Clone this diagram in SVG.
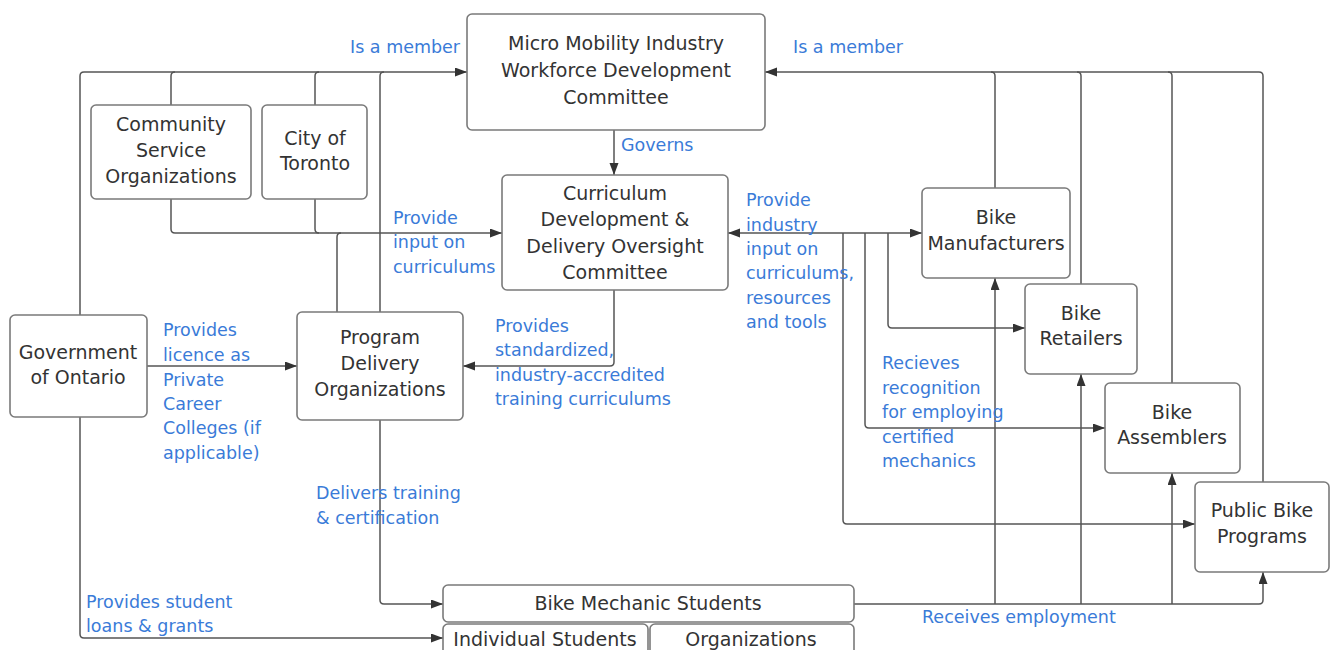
<svg xmlns="http://www.w3.org/2000/svg" width="1330" height="650" viewBox="0 0 1330 650">
<defs>
<marker id="ah" markerUnits="userSpaceOnUse" markerWidth="13" markerHeight="10" refX="12" refY="4.5" orient="auto-start-reverse">
<path d="M0,0 L12,4.5 L0,9 z" fill="#333"/>
</marker>
<style>
.box{fill:#fff;stroke:#7a7a7a;stroke-width:1.6}
.t{font-family:"DejaVu Sans",Verdana,sans-serif;font-size:19px;fill:#333;text-anchor:middle}
.l{font-family:"DejaVu Sans",Verdana,sans-serif;font-size:17.5px;fill:#3a7bd8}
.c{fill:none;stroke:#555;stroke-width:1.5;stroke-linejoin:round}
.a{marker-end:url(#ah)}
</style>
</defs>
<rect width="1330" height="650" fill="#fff"/>

<g id="connectors">
<path class="c a" d="M80,315 V76 Q80,72 84,72 H467"/>
<path class="c" d="M171,105 V76 Q171,72 175,72"/>
<path class="c" d="M315,105 V76 Q315,72 319,72"/>
<path class="c" d="M380,312 V76 Q380,72 384,72"/>
<path class="c a" d="M171,199 V229 Q171,233 175,233 H502"/>
<path class="c" d="M315,199 V229 Q315,233 319,233"/>
<path class="c" d="M337,312 V237 Q337,233 341,233"/>
<path class="c a" d="M80,417 V634 Q80,638 84,638 H443"/>
<path class="c a" d="M147,366 H297"/>
<path class="c a" d="M614,290 V362 Q614,366 610,366 H463"/>
<path class="c a" d="M380,420 V600 Q380,604 384,604 H443"/>
<path class="c a" d="M614,130 V175"/>
<path class="c a" d="M1263,482 V76 Q1263,72 1259,72 H765"/>
<path class="c" d="M995,188 V76 Q995,72 991,72"/>
<path class="c" d="M1081,284 V76 Q1081,72 1077,72"/>
<path class="c" d="M1172,383 V76 Q1172,72 1168,72"/>
<path class="c a" d="M728,233 H922" marker-start="url(#ah)"/>
<path class="c a" d="M843,233 V520 Q843,524 847,524 H1195"/>
<path class="c a" d="M865,233 V424 Q865,428 869,428 H1105"/>
<path class="c a" d="M888,233 V324 Q888,328 892,328 H1025"/>
<path class="c a" d="M854,604 H1259 Q1263,604 1263,600 V572"/>
<path class="c a" d="M995,604 V278"/>
<path class="c a" d="M1081,604 V374"/>
<path class="c a" d="M1172,604 V473"/>
</g>

<g id="labels">
<text class="l" x="350" y="53">Is a member</text>
<text class="l" x="793" y="53">Is a member</text>
<text class="l" x="621" y="151">Governs</text>
<text class="l" x="393" y="224">Provide</text>
<text class="l" x="393" y="248">input on</text>
<text class="l" x="393" y="273">curriculums</text>
<text class="l" x="746" y="206">Provide</text>
<text class="l" x="746" y="231">industry</text>
<text class="l" x="746" y="255">input on</text>
<text class="l" x="746" y="279">curriculums,</text>
<text class="l" x="746" y="304">resources</text>
<text class="l" x="746" y="328">and tools</text>
<text class="l" x="163" y="336">Provides</text>
<text class="l" x="163" y="361">licence as</text>
<text class="l" x="163" y="386">Private</text>
<text class="l" x="163" y="410">Career</text>
<text class="l" x="163" y="434">Colleges (if</text>
<text class="l" x="163" y="459">applicable)</text>
<text class="l" x="495" y="332">Provides</text>
<text class="l" x="495" y="356">standardized,</text>
<text class="l" x="495" y="381">industry-accredited</text>
<text class="l" x="495" y="405">training curriculums</text>
<text class="l" x="316" y="499">Delivers training</text>
<text class="l" x="316" y="524">&amp; certification</text>
<text class="l" x="86" y="608">Provides student</text>
<text class="l" x="86" y="632">loans &amp; grants</text>
<text class="l" x="882" y="369">Recieves</text>
<text class="l" x="882" y="394">recognition</text>
<text class="l" x="882" y="418">for employing</text>
<text class="l" x="882" y="443">certified</text>
<text class="l" x="882" y="467">mechanics</text>
<text class="l" x="922" y="623">Receives employment</text>
</g>

<g id="micro">
<rect class="box" x="467" y="14" width="298" height="116" rx="5"/>
<text class="t" x="616" y="50">Micro Mobility Industry</text>
<text class="t" x="616" y="77">Workforce Development</text>
<text class="t" x="616" y="104">Committee</text>
</g>
<g id="curriculum">
<rect class="box" x="502" y="175" width="226" height="115" rx="5"/>
<text class="t" x="615" y="200">Curriculum</text>
<text class="t" x="615" y="226">Development &amp;</text>
<text class="t" x="615" y="253">Delivery Oversight</text>
<text class="t" x="615" y="279">Committee</text>
</g>
<g id="cso">
<rect class="box" x="91" y="105" width="160" height="94" rx="5"/>
<text class="t" x="171" y="131">Community</text>
<text class="t" x="171" y="157">Service</text>
<text class="t" x="171" y="183">Organizations</text>
</g>
<g id="toronto">
<rect class="box" x="262" y="105" width="105" height="94" rx="5"/>
<text class="t" x="315" y="145">City of</text>
<text class="t" x="315" y="170">Toronto</text>
</g>
<g id="ontario">
<rect class="box" x="10" y="315" width="137" height="102" rx="5"/>
<text class="t" x="78" y="359">Government</text>
<text class="t" x="78" y="384">of Ontario</text>
</g>
<g id="program">
<rect class="box" x="297" y="312" width="166" height="108" rx="5"/>
<text class="t" x="380" y="344">Program</text>
<text class="t" x="380" y="370">Delivery</text>
<text class="t" x="380" y="396">Organizations</text>
</g>
<g id="manufacturers">
<rect class="box" x="922" y="188" width="148" height="90" rx="5"/>
<text class="t" x="996" y="224">Bike</text>
<text class="t" x="996" y="250">Manufacturers</text>
</g>
<g id="retailers">
<rect class="box" x="1025" y="284" width="112" height="90" rx="5"/>
<text class="t" x="1081" y="320">Bike</text>
<text class="t" x="1081" y="345">Retailers</text>
</g>
<g id="assemblers">
<rect class="box" x="1105" y="383" width="135" height="90" rx="5"/>
<text class="t" x="1172" y="419">Bike</text>
<text class="t" x="1172" y="444">Assemblers</text>
</g>
<g id="public">
<rect class="box" x="1195" y="482" width="134" height="90" rx="5"/>
<text class="t" x="1262" y="517">Public Bike</text>
<text class="t" x="1262" y="543">Programs</text>
</g>
<g id="students">
<rect class="box" x="443" y="585" width="411" height="37" rx="5"/>
<text class="t" x="648" y="610">Bike Mechanic Students</text>
</g>
<g id="individual">
<rect class="box" x="443" y="624" width="205" height="32" rx="5"/>
<text class="t" x="545" y="646">Individual Students</text>
</g>
<g id="organizations">
<rect class="box" x="650" y="624" width="204" height="32" rx="5"/>
<text class="t" x="751" y="646">Organizations</text>
</g>
</svg>
